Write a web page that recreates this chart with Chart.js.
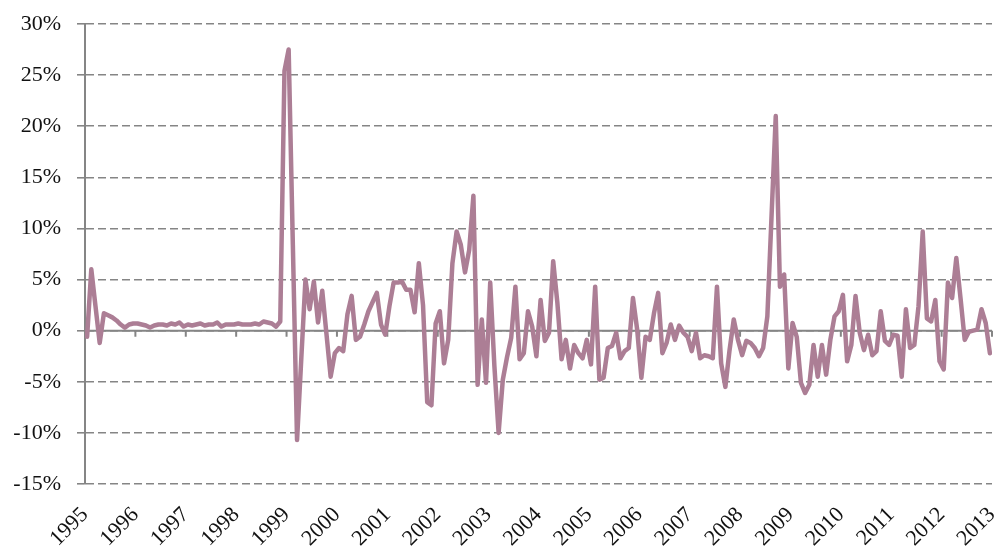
<!DOCTYPE html>
<html>
<head>
<meta charset="utf-8">
<script src="https://cdn.jsdelivr.net/npm/chart.js@4"></script>
<style>
  html, body { margin: 0; padding: 0; background: #fff; }
  #wrap { width: 994px; height: 548px; position: relative; }
</style>
</head>
<body>
<div id="wrap"><canvas id="growth_chart"></canvas></div>
<script>
// tick labels on the x axis (one per January)
const years = ['1995', '1996', '1997', '1998', '1999', '2000', '2001', '2002', '2003', '2004',
               '2005', '2006', '2007', '2008', '2009', '2010', '2011', '2012', '2013'];

// monthly change in %, Jan 1995 .. Dec 2012 (one row per year)
const monthlyChange = [
    -0.6, 6.0, 2.4, -1.2, 1.7, 1.5, 1.3, 1.0, 0.6, 0.3, 0.6, 0.7,
    0.7, 0.6, 0.5, 0.3, 0.5, 0.6, 0.6, 0.5, 0.7, 0.6, 0.8, 0.4,
    0.6, 0.5, 0.6, 0.7, 0.5, 0.6, 0.6, 0.8, 0.4, 0.6, 0.6, 0.6,
    0.7, 0.6, 0.6, 0.6, 0.7, 0.6, 0.9, 0.8, 0.7, 0.4, 0.9, 25.4,
    27.5, 8.4, -10.7, -2.8, 5.0, 2.1, 4.8, 0.8, 3.9, -0.3, -4.5, -2.2,
    -1.7, -2.0, 1.6, 3.4, -0.9, -0.6, 0.6, 1.9, 2.8, 3.7, 0.6, -0.4,
    2.4, 4.7, 4.7, 4.8, 4.0, 4.0, 1.8, 6.6, 2.5, -7.0, -7.3, 0.7,
    1.9, -3.2, -0.9, 6.6, 9.7, 8.4, 5.7, 7.9, 13.2, -5.3, 1.1, -5.1,
    4.7, -3.5, -10.0, -4.8, -2.6, -0.7, 4.3, -2.8, -2.2, 1.9, 0.4, -2.5,
    3.0, -1.0, -0.2, 6.8, 2.7, -2.8, -0.9, -3.7, -1.4, -2.2, -2.7, -0.9,
    -3.3, 4.3, -4.8, -4.6, -1.7, -1.5, -0.2, -2.7, -2.0, -1.7, 3.2, 0.1,
    -4.6, -0.6, -0.9, 1.7, 3.7, -2.2, -1.2, 0.6, -0.9, 0.5, -0.2, -0.6,
    -2.0, -0.2, -2.7, -2.4, -2.5, -2.7, 4.3, -3.2, -5.5, -1.9, 1.1, -0.9,
    -2.4, -1.0, -1.2, -1.7, -2.5, -1.7, 1.4, 11.2, 21.0, 4.3, 5.5, -3.7,
    0.75, -0.6, -5.1, -6.1, -5.3, -1.4, -4.5, -1.4, -4.3, -0.9, 1.4, 1.9,
    3.5, -3.0, -1.4, 3.4, -0.2, -1.9, -0.4, -2.4, -2.0, 1.9, -1.0, -1.4,
    -0.4, -0.5, -4.5, 2.1, -1.7, -1.4, 2.4, 9.7, 1.2, 0.9, 3.0, -3.0,
    -3.8, 4.7, 3.2, 7.1, 3.2, -0.9, -0.1, 0.0, 0.1, 2.1, 0.75, -2.2
];

// y axis ticks (percent)
const yTicks = [-15, -10, -5, 0, 5, 10, 15, 20, 25, 30];

const axisGrey = '#858585';
const labelFont = { family: '"Liberation Serif", "DejaVu Serif", serif', size: 22 };

// solid zero line with the small year ticks hanging from it
const zeroLine = {
    id: 'zeroLine',
    beforeDatasetsDraw(chart) {
        const { ctx, chartArea, scales } = chart;
        const y0 = scales.y.getPixelForValue(0);
        ctx.save();
        ctx.strokeStyle = axisGrey;
        ctx.lineWidth = 2;
        ctx.beginPath();
        ctx.moveTo(chartArea.left, y0);
        ctx.lineTo(chartArea.right, y0);
        scales.x.ticks.forEach(function (t) {
            const px = scales.x.getPixelForValue(t.value);
            ctx.moveTo(px, y0);
            ctx.lineTo(px, y0 + 6);
        });
        ctx.stroke();
        ctx.restore();
    }
};

function initChart() {
    const ctx = document.getElementById('growth_chart').getContext('2d');
    // each month sits in the middle of its slot, years start on the ticks
    const points = monthlyChange.map(function (v, i) { return { x: i + 0.5, y: v }; });

    new Chart(ctx, {
        type: 'line',
        data: {
            datasets: [{
                data: points,
                borderColor: '#ac7e95',
                borderWidth: 4.5,
                borderJoinStyle: 'round',
                borderCapStyle: 'round',
                pointRadius: 0,
                tension: 0,
                fill: false
            }]
        },
        plugins: [zeroLine],
        options: {
            responsive: true,
            maintainAspectRatio: false,
            animation: false,
            layout: { padding: { top: 24, right: 2, bottom: 0, left: 0 } },
            plugins: {
                legend: { display: false },
                tooltip: { enabled: false }
            },
            scales: {
                x: {
                    type: 'linear',
                    min: 0,
                    max: years.length * 12 - 12,
                    afterBuildTicks: function (scale) {
                        scale.ticks = years.map(function (y, k) { return { value: k * 12 }; });
                    },
                    afterFit: function (scale) {
                        scale.height = 64;
                        scale.paddingLeft = 0;
                        scale.paddingRight = 0;
                    },
                    grid: { display: false },
                    border: { display: false },
                    ticks: {
                        autoSkip: false,
                        minRotation: 45,
                        maxRotation: 45,
                        padding: 10,
                        color: '#111',
                        font: labelFont,
                        callback: function (v) { return years[Math.round(v / 12)]; }
                    }
                },
                y: {
                    min: yTicks[0],
                    max: yTicks[yTicks.length - 1],
                    afterBuildTicks: function (scale) {
                        scale.ticks = yTicks.map(function (v) { return { value: v }; });
                    },
                    afterFit: function (scale) {
                        scale.width = 85;
                        scale.paddingTop = 0;
                        scale.paddingBottom = 0;
                    },
                    grid: {
                        color: axisGrey,
                        lineWidth: 1.6,
                        tickLength: 8,
                        tickColor: axisGrey,
                        tickBorderDash: []
                    },
                    border: { display: true, color: axisGrey, width: 2, dash: [8, 4] },
                    ticks: {
                        padding: 16,
                        color: '#111',
                        font: labelFont,
                        callback: function (v) { return v + '%'; }
                    }
                }
            }
        }
    });
}

initChart();
</script>
</body>
</html>
